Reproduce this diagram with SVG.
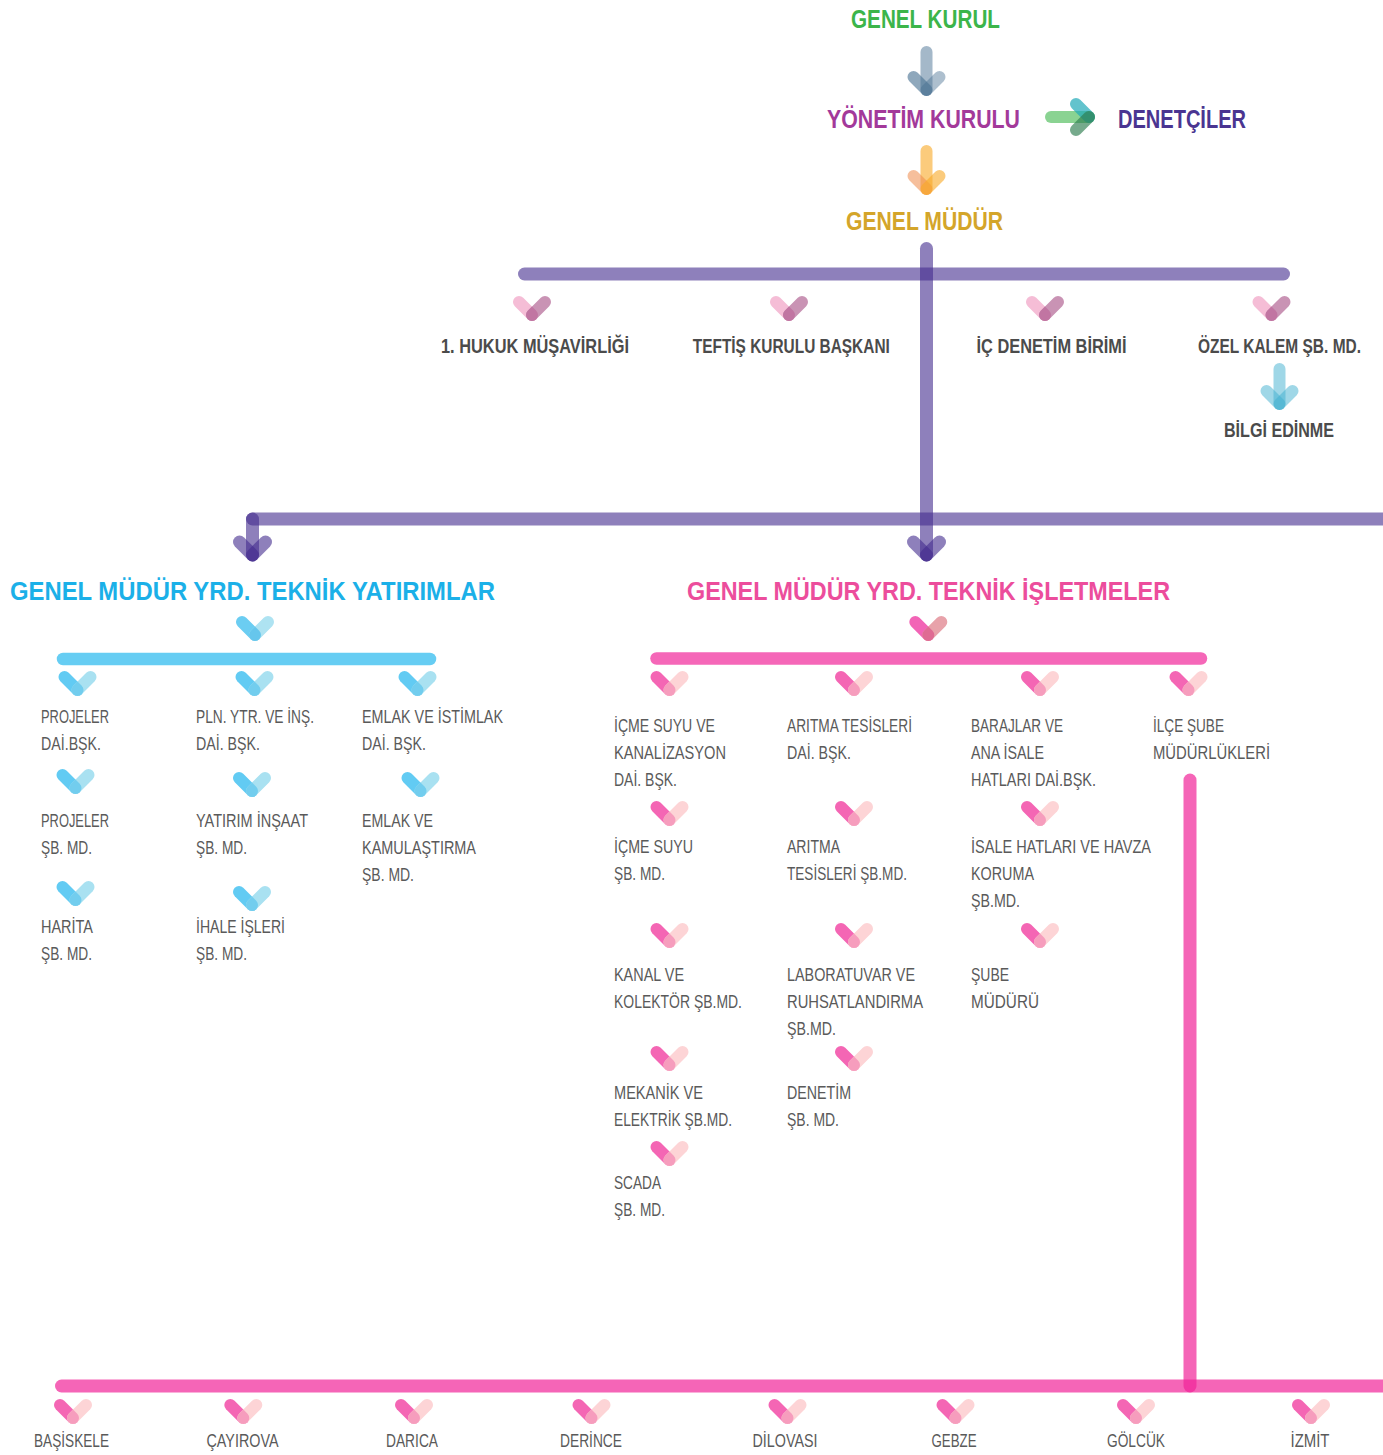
<svg xmlns="http://www.w3.org/2000/svg" xmlns:xlink="http://www.w3.org/1999/xlink" width="1383" height="1455" viewBox="0 0 1383 1455">
<style>
text{font-family:"Liberation Sans","DejaVu Sans",sans-serif}
.title{font-size:26.5px;font-weight:bold}
.lb{font-size:20px;font-weight:bold;fill:#4b4b4b;text-anchor:middle}
.lr{font-size:18.8px;fill:#5a5a5a}
.bt{font-size:18.8px;fill:#5a5a5a;text-anchor:middle}
.arm{fill:none;stroke-width:12;stroke-linecap:round}
.pl{fill:none;stroke:#432b8e;stroke-opacity:0.6;stroke-width:13;stroke-linecap:round}
.pk{fill:none;stroke:#f12498;stroke-opacity:0.7;stroke-width:13;stroke-linecap:round}
</style>
<defs>
<g id="chM">
<path class="arm" stroke="#f5bdd6" d="M-13,-13L0,0"/>
<path class="arm" stroke="#c993b4" d="M0,0L13,-13"/>
<path fill="#c175a2" d="M-4.24,-4.24L0,-8.49L4.24,-4.24A6 6 0 1 1 -4.24,-4.24Z"/>
</g>
<g id="chB">
<path class="arm" stroke="#62cbf3" d="M-13,-13L0,0"/>
<path class="arm" stroke="#a9e1f1" d="M0,0L13,-13"/>
<path fill="#72cdee" d="M-4.24,-4.24L0,-8.49L4.24,-4.24A6 6 0 1 1 -4.24,-4.24Z"/>
</g>
<g id="chBT">
<path class="arm" stroke="#6bcdf2" d="M-13,-13L0,0"/>
<path class="arm" stroke="#aee3f2" d="M0,0L13,-13"/>
<path fill="#66c6ec" d="M-4.24,-4.24L0,-8.49L4.24,-4.24A6 6 0 1 1 -4.24,-4.24Z"/>
</g>
<g id="chP">
<path class="arm" stroke="#f466b4" d="M-13,-13L0,0"/>
<path class="arm" stroke="#fdd4d6" d="M0,0L13,-13"/>
<path fill="#f69dbd" d="M-4.24,-4.24L0,-8.49L4.24,-4.24A6 6 0 1 1 -4.24,-4.24Z"/>
</g>
<g id="chPT">
<path class="arm" stroke="#f264b6" d="M-13,-13L0,0"/>
<path class="arm" stroke="#e8a2aa" d="M0,0L13,-13"/>
<path fill="#df6b93" d="M-4.24,-4.24L0,-8.49L4.24,-4.24A6 6 0 1 1 -4.24,-4.24Z"/>
</g>
</defs>
<rect width="1383" height="1455" fill="#ffffff"/>

<g id="connectors">
<g id="arrow-gk-yk">
<path class="arm" stroke="#4a7293" stroke-opacity="0.5" d="M926.5,52L926.5,90"/>
<path class="arm" stroke="#4a7293" stroke-opacity="0.62" d="M913.5,77L926.5,90"/>
<path class="arm" stroke="#4a7293" stroke-opacity="0.45" d="M926.5,90L939.5,77"/>
</g>
<g id="arrow-yk-gm">
<path class="arm" stroke="#f9a825" stroke-opacity="0.6" d="M926.5,151L926.5,189"/>
<path class="arm" stroke="#ef8b4a" stroke-opacity="0.55" d="M913.5,176L926.5,189"/>
<path class="arm" stroke="#f9a825" stroke-opacity="0.6" d="M926.5,189L939.5,176"/>
</g>
<g id="arrow-yk-den">
<path class="arm" stroke="#3cb54a" stroke-opacity="0.6" d="M1051,117L1089,117"/>
<path class="arm" stroke="#20a9b8" stroke-opacity="0.7" d="M1076,104L1089,117"/>
<path class="arm" stroke="#2d7d4f" stroke-opacity="0.65" d="M1089,117L1076,130"/>
</g>
<g id="arrow-ozel-bilgi">
<path class="arm" stroke="#3fb0d0" stroke-opacity="0.5" d="M1279.5,369L1279.5,404"/>
<path class="arm" stroke="#3fb0d0" stroke-opacity="0.5" d="M1266.5,391L1279.5,404"/>
<path class="arm" stroke="#3fb0d0" stroke-opacity="0.5" d="M1279.5,404L1292.5,391"/>
</g>
<path class="pl" d="M524.5,274L1283.5,274"/>
<path class="pl" d="M926.5,248.5L926.5,555"/>
<path class="pl" d="M252.5,519L1400,519"/>
<path class="pl" d="M252.5,519L252.5,555"/>
<path class="pl" d="M239.5,542L252.5,555"/>
<path class="pl" stroke-opacity="0.7" d="M252.5,555L265.5,542"/>
<path class="pl" d="M913.5,542L926.5,555"/>
<path class="pl" stroke-opacity="0.7" d="M926.5,555L939.5,542"/>
<path fill="none" stroke="#66cdf3" stroke-width="12.5" stroke-linecap="round" d="M63,659L430,659"/>
<path fill="none" stroke="#f567b8" stroke-width="12.5" stroke-linecap="round" d="M656.5,658.5L1201,658.5"/>
<path class="pk" d="M1190,780L1190,1386"/>
<path class="pk" d="M61.5,1386L1400,1386"/>
</g>

<g id="genel-kurul"><text class="title" x="925.5" y="28" fill="#3cb54a" text-anchor="middle" textLength="149" lengthAdjust="spacingAndGlyphs">GENEL KURUL</text></g>
<g id="yonetim-kurulu"><text class="title" x="923.5" y="128" fill="#a3399a" text-anchor="middle" textLength="193" lengthAdjust="spacingAndGlyphs">YÖNETİM KURULU</text></g>
<g id="denetciler"><text class="title" x="1118" y="128" fill="#4a3591" textLength="128" lengthAdjust="spacingAndGlyphs">DENETÇİLER</text></g>
<g id="genel-mudur"><text class="title" x="924.5" y="230" fill="#d4a52a" text-anchor="middle" textLength="157" lengthAdjust="spacingAndGlyphs">GENEL MÜDÜR</text></g>

<g id="hukuk"><use xlink:href="#chM" x="532" y="315"/><text class="lb" x="535" y="353" textLength="188" lengthAdjust="spacingAndGlyphs">1. HUKUK MÜŞAVİRLİĞİ</text></g>
<g id="teftis"><use xlink:href="#chM" x="789" y="315"/><text class="lb" x="791.3" y="353" textLength="197" lengthAdjust="spacingAndGlyphs">TEFTİŞ KURULU BAŞKANI</text></g>
<g id="ic-denetim"><use xlink:href="#chM" x="1045" y="315"/><text class="lb" x="1051.5" y="353" textLength="150" lengthAdjust="spacingAndGlyphs">İÇ DENETİM BİRİMİ</text></g>
<g id="ozel-kalem"><use xlink:href="#chM" x="1271.5" y="315"/><text class="lb" x="1361" y="353" style="text-anchor:end" textLength="163" lengthAdjust="spacingAndGlyphs">ÖZEL KALEM ŞB. MD.</text></g>
<g id="bilgi-edinme"><text class="lb" x="1279" y="437" textLength="110" lengthAdjust="spacingAndGlyphs">BİLGİ EDİNME</text></g>

<g id="gmy-yatirimlar"><text class="title" x="252.5" y="600" fill="#1bb0e8" text-anchor="middle" textLength="485" lengthAdjust="spacingAndGlyphs">GENEL MÜDÜR YRD. TEKNİK YATIRIMLAR</text><use xlink:href="#chBT" x="255" y="635"/></g>
<g id="gmy-isletmeler"><text class="title" x="928.5" y="600" fill="#ec4d9c" text-anchor="middle" textLength="483" lengthAdjust="spacingAndGlyphs">GENEL MÜDÜR YRD. TEKNİK İŞLETMELER</text><use xlink:href="#chPT" x="928.3" y="635"/></g>

<g id="projeler-dai"><use xlink:href="#chB" x="77.5" y="690"/><text class="lr" x="41" y="723" textLength="68" lengthAdjust="spacingAndGlyphs">PROJELER</text><text class="lr" x="41" y="750" textLength="60" lengthAdjust="spacingAndGlyphs">DAİ.BŞK.</text></g>
<g id="projeler-sb"><use xlink:href="#chB" x="75.5" y="788"/><text class="lr" x="41" y="827" textLength="68" lengthAdjust="spacingAndGlyphs">PROJELER</text><text class="lr" x="41" y="854" textLength="51" lengthAdjust="spacingAndGlyphs">ŞB. MD.</text></g>
<g id="harita"><use xlink:href="#chB" x="75.5" y="900"/><text class="lr" x="41" y="933" textLength="52" lengthAdjust="spacingAndGlyphs">HARİTA</text><text class="lr" x="41" y="960" textLength="51" lengthAdjust="spacingAndGlyphs">ŞB. MD.</text></g>
<g id="pln-ytr"><use xlink:href="#chB" x="254.5" y="690"/><text class="lr" x="196" y="723" textLength="118" lengthAdjust="spacingAndGlyphs">PLN. YTR. VE İNŞ.</text><text class="lr" x="196" y="750" textLength="64" lengthAdjust="spacingAndGlyphs">DAİ. BŞK.</text></g>
<g id="yatirim-insaat"><use xlink:href="#chB" x="252" y="791"/><text class="lr" x="196" y="827" textLength="112" lengthAdjust="spacingAndGlyphs">YATIRIM İNŞAAT</text><text class="lr" x="196" y="854" textLength="51" lengthAdjust="spacingAndGlyphs">ŞB. MD.</text></g>
<g id="ihale"><use xlink:href="#chB" x="252" y="905"/><text class="lr" x="196" y="933" textLength="89" lengthAdjust="spacingAndGlyphs">İHALE İŞLERİ</text><text class="lr" x="196" y="960" textLength="51" lengthAdjust="spacingAndGlyphs">ŞB. MD.</text></g>
<g id="emlak-istimlak"><use xlink:href="#chB" x="417.5" y="690"/><text class="lr" x="362" y="723" textLength="141" lengthAdjust="spacingAndGlyphs">EMLAK VE İSTİMLAK</text><text class="lr" x="362" y="750" textLength="64" lengthAdjust="spacingAndGlyphs">DAİ. BŞK.</text></g>
<g id="emlak-kam"><use xlink:href="#chB" x="420.5" y="791"/><text class="lr" x="362" y="827" textLength="71" lengthAdjust="spacingAndGlyphs">EMLAK VE</text><text class="lr" x="362" y="854" textLength="114" lengthAdjust="spacingAndGlyphs">KAMULAŞTIRMA</text><text class="lr" x="362" y="881" textLength="52" lengthAdjust="spacingAndGlyphs">ŞB. MD.</text></g>

<g id="icme-kanal-dai"><use xlink:href="#chP" x="669.5" y="690"/><text class="lr" x="614" y="732" textLength="101" lengthAdjust="spacingAndGlyphs">İÇME SUYU VE</text><text class="lr" x="614" y="759" textLength="112" lengthAdjust="spacingAndGlyphs">KANALİZASYON</text><text class="lr" x="614" y="786" textLength="63" lengthAdjust="spacingAndGlyphs">DAİ. BŞK.</text></g>
<g id="icme-suyu-sb"><use xlink:href="#chP" x="669.5" y="820"/><text class="lr" x="614" y="853" textLength="79" lengthAdjust="spacingAndGlyphs">İÇME SUYU</text><text class="lr" x="614" y="880" textLength="51" lengthAdjust="spacingAndGlyphs">ŞB. MD.</text></g>
<g id="kanal-kolektor"><use xlink:href="#chP" x="669.5" y="942"/><text class="lr" x="614" y="981" textLength="70" lengthAdjust="spacingAndGlyphs">KANAL VE</text><text class="lr" x="614" y="1008" textLength="128" lengthAdjust="spacingAndGlyphs">KOLEKTÖR ŞB.MD.</text></g>
<g id="mekanik"><use xlink:href="#chP" x="669.5" y="1065"/><text class="lr" x="614" y="1099" textLength="89" lengthAdjust="spacingAndGlyphs">MEKANİK VE</text><text class="lr" x="614" y="1126" textLength="118" lengthAdjust="spacingAndGlyphs">ELEKTRİK ŞB.MD.</text></g>
<g id="scada"><use xlink:href="#chP" x="669.5" y="1160"/><text class="lr" x="614" y="1189" textLength="47" lengthAdjust="spacingAndGlyphs">SCADA</text><text class="lr" x="614" y="1216" textLength="51" lengthAdjust="spacingAndGlyphs">ŞB. MD.</text></g>
<g id="aritma-dai"><use xlink:href="#chP" x="854" y="690"/><text class="lr" x="787" y="732" textLength="125" lengthAdjust="spacingAndGlyphs">ARITMA TESİSLERİ</text><text class="lr" x="787" y="759" textLength="64" lengthAdjust="spacingAndGlyphs">DAİ. BŞK.</text></g>
<g id="aritma-sb"><use xlink:href="#chP" x="854" y="820"/><text class="lr" x="787" y="853" textLength="53" lengthAdjust="spacingAndGlyphs">ARITMA</text><text class="lr" x="787" y="880" textLength="120" lengthAdjust="spacingAndGlyphs">TESİSLERİ ŞB.MD.</text></g>
<g id="laboratuvar"><use xlink:href="#chP" x="854" y="942"/><text class="lr" x="787" y="981" textLength="128" lengthAdjust="spacingAndGlyphs">LABORATUVAR VE</text><text class="lr" x="787" y="1008" textLength="136" lengthAdjust="spacingAndGlyphs">RUHSATLANDIRMA</text><text class="lr" x="787" y="1035" textLength="49" lengthAdjust="spacingAndGlyphs">ŞB.MD.</text></g>
<g id="denetim-sb"><use xlink:href="#chP" x="854" y="1065"/><text class="lr" x="787" y="1099" textLength="64" lengthAdjust="spacingAndGlyphs">DENETİM</text><text class="lr" x="787" y="1126" textLength="52" lengthAdjust="spacingAndGlyphs">ŞB. MD.</text></g>
<g id="barajlar"><use xlink:href="#chP" x="1040" y="690"/><text class="lr" x="971" y="732" textLength="92" lengthAdjust="spacingAndGlyphs">BARAJLAR VE</text><text class="lr" x="971" y="759" textLength="73" lengthAdjust="spacingAndGlyphs">ANA İSALE</text><text class="lr" x="971" y="786" textLength="125" lengthAdjust="spacingAndGlyphs">HATLARI DAİ.BŞK.</text></g>
<g id="isale-havza"><use xlink:href="#chP" x="1040" y="820"/><text class="lr" x="971" y="853" textLength="180" lengthAdjust="spacingAndGlyphs">İSALE HATLARI VE HAVZA</text><text class="lr" x="971" y="880" textLength="63" lengthAdjust="spacingAndGlyphs">KORUMA</text><text class="lr" x="971" y="907" textLength="49" lengthAdjust="spacingAndGlyphs">ŞB.MD.</text></g>
<g id="sube-muduru"><use xlink:href="#chP" x="1040" y="942"/><text class="lr" x="971" y="981" textLength="38" lengthAdjust="spacingAndGlyphs">ŞUBE</text><text class="lr" x="971" y="1008" textLength="68" lengthAdjust="spacingAndGlyphs">MÜDÜRÜ</text></g>
<g id="ilce-sube"><use xlink:href="#chP" x="1188.5" y="690"/><text class="lr" x="1153" y="732" textLength="71" lengthAdjust="spacingAndGlyphs">İLÇE ŞUBE</text><text class="lr" x="1153" y="759" textLength="117" lengthAdjust="spacingAndGlyphs">MÜDÜRLÜKLERİ</text></g>

<g id="basiskele"><use xlink:href="#chP" x="73" y="1418"/><text class="bt" x="71.5" y="1447" textLength="75" lengthAdjust="spacingAndGlyphs">BAŞİSKELE</text></g>
<g id="cayirova"><use xlink:href="#chP" x="243.3" y="1418"/><text class="bt" x="242.5" y="1447" textLength="72" lengthAdjust="spacingAndGlyphs">ÇAYIROVA</text></g>
<g id="darica"><use xlink:href="#chP" x="414" y="1418"/><text class="bt" x="412" y="1447" textLength="52" lengthAdjust="spacingAndGlyphs">DARICA</text></g>
<g id="derince"><use xlink:href="#chP" x="591.5" y="1418"/><text class="bt" x="591" y="1447" textLength="62" lengthAdjust="spacingAndGlyphs">DERİNCE</text></g>
<g id="dilovasi"><use xlink:href="#chP" x="787.5" y="1418"/><text class="bt" x="785" y="1447" textLength="65" lengthAdjust="spacingAndGlyphs">DİLOVASI</text></g>
<g id="gebze"><use xlink:href="#chP" x="955.5" y="1418"/><text class="bt" x="954" y="1447" textLength="45" lengthAdjust="spacingAndGlyphs">GEBZE</text></g>
<g id="golcuk"><use xlink:href="#chP" x="1136" y="1418"/><text class="bt" x="1136" y="1447" textLength="58" lengthAdjust="spacingAndGlyphs">GÖLCÜK</text></g>
<g id="izmit"><use xlink:href="#chP" x="1311" y="1418"/><text class="bt" x="1310" y="1447" textLength="39" lengthAdjust="spacingAndGlyphs">İZMİT</text></g>
</svg>
